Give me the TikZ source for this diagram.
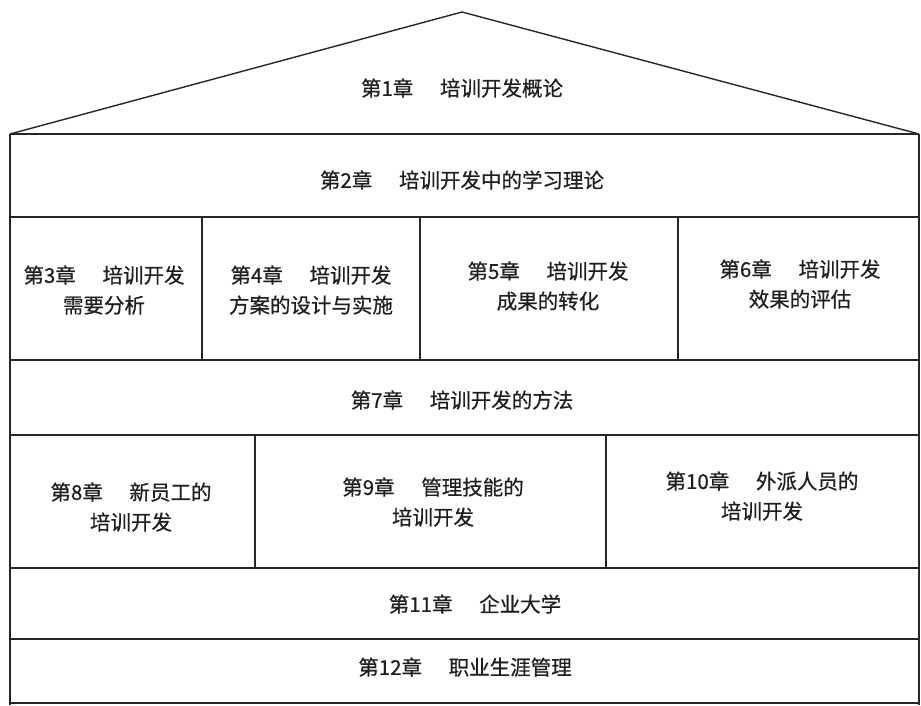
\documentclass[tikz,border=0pt]{standalone}
\usepackage{fontspec}
\newfontfamily\cjk[FakeBold=0.6]{Noto Sans CJK SC}
\newcommand{\gapch}{\hspace{1.3em}}
\begin{document}
\begin{tikzpicture}[x=1pt,y=-1pt,
  frame/.style={line width=1.4pt, line join=miter, black!85},
  lbl/.style={font=\cjk\fontsize{20.5}{30}\selectfont, align=center, inner sep=0pt, text=black!88}]
\useasboundingbox (0,0) rectangle (921,705);
% roof
\draw[frame] (10,134) -- (462,12) -- (919,134);
% outer body
\draw[frame] (10,134) -- (919,134);
\draw[frame] (10,134) -- (10,705);
\draw[frame] (919,134) -- (919,705);
% horizontal separators
\draw[frame] (10,217) -- (919,217);
\draw[frame] (10,360) -- (919,360);
\draw[frame] (10,435) -- (919,435);
\draw[frame] (10,568) -- (919,568);
\draw[frame] (10,639) -- (919,639);
\draw[frame] (10,703) -- (919,703);
% vertical dividers row 3-6
\draw[frame] (202,217) -- (202,360);
\draw[frame] (420,217) -- (420,360);
\draw[frame] (678,217) -- (678,360);
% vertical dividers row 8-10
\draw[frame] (255,435) -- (255,568);
\draw[frame] (606,435) -- (606,568);
% labels
\node[lbl] (c1) at (462,88) {第1章\gapch 培训开发概论};
\node[lbl] (c2) at (462,180) {第2章\gapch 培训开发中的学习理论};
\node[lbl] (c3) at (104,290) {第3章\gapch 培训开发\\需要分析};
\node[lbl] (c4) at (311,290) {第4章\gapch 培训开发\\方案的设计与实施};
\node[lbl] (c5) at (548,286) {第5章\gapch 培训开发\\成果的转化};
\node[lbl] (c6) at (800,284) {第6章\gapch 培训开发\\效果的评估};
\node[lbl] (c7) at (462,400) {第7章\gapch 培训开发的方法};
\node[lbl] (c8) at (131,507) {第8章\gapch 新员工的\\培训开发};
\node[lbl] (c9) at (433,502) {第9章\gapch 管理技能的\\培训开发};
\node[lbl] (c10) at (762,496) {第10章\gapch 外派人员的\\培训开发};
\node[lbl] (c11) at (475,604) {第11章\gapch 企业大学};
\node[lbl] (c12) at (465,667) {第12章\gapch 职业生涯管理};
\end{tikzpicture}
\end{document}
